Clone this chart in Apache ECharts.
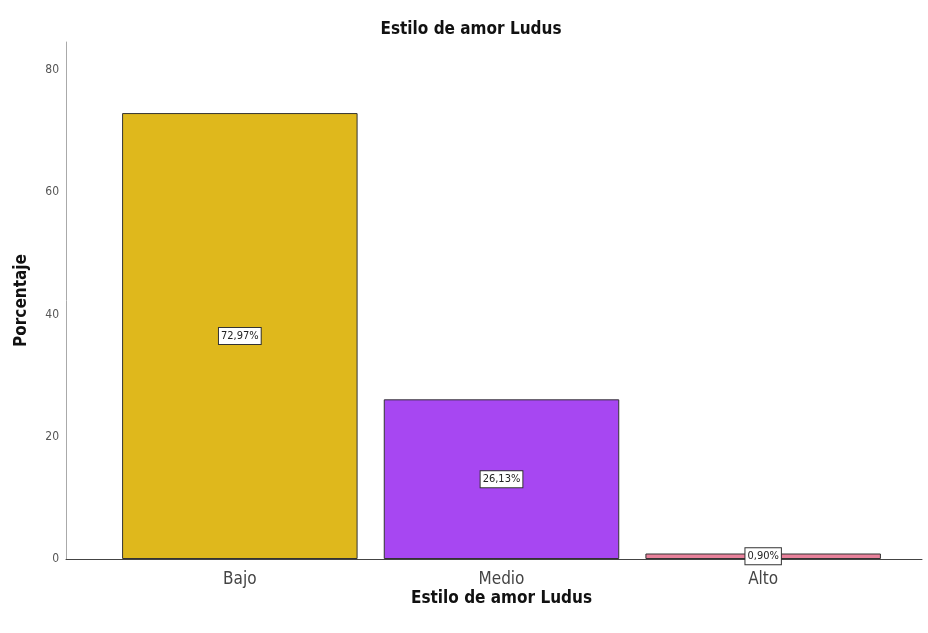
<!DOCTYPE html>
<html>
<head>
<meta charset="utf-8">
<script src="https://cdn.jsdelivr.net/npm/echarts@6/dist/echarts.min.js"></script>
<style>html,body{margin:0;padding:0;background:#fff}#c{width:928px;height:633px}</style>
</head>
<body>
<div id="c"></div>
<script>
const categories = ['Bajo', 'Medio', 'Alto'];
const values = [72.97, 26.13, 0.90];
const labels = ['72,97%', '26,13%', '0,90%'];
const barColors = ['#DFB81C', '#A747F2', '#E8819B'];
const yTicks = [0, 20, 40, 60, 80];

const font = '"DejaVu Sans Condensed", "Liberation Sans Narrow", "Liberation Sans", sans-serif';
const chart = echarts.init(document.getElementById('c'));
chart.setOption({
  animation: false,
  backgroundColor: '#fff',
  title: {
    text: 'Estilo de amor Ludus',
    left: 466, top: 16, textAlign: 'center',
    textStyle: { fontFamily: font, fontSize: 17, fontWeight: 'bold', color: '#111' }
  },
  grid: [
    { left: 109, right: 34, top: 42, bottom: 74 },
    { left: 66, right: 6, top: 42, bottom: 74 }
  ],
  xAxis: [
    {
      type: 'category', gridIndex: 0, data: categories,
      axisLine: { show: false }, axisTick: { show: false },
      axisLabel: { fontFamily: font, fontSize: 17, color: '#444', margin: 12 },
      name: 'Estilo de amor Ludus', nameLocation: 'middle', nameGap: 31, nameMoveOverlap: false,
      nameTextStyle: { fontFamily: font, fontSize: 17, fontWeight: 'bold', color: '#111' }
    },
    {
      type: 'value', gridIndex: 1, min: 0, max: 1,
      axisLine: { show: true, lineStyle: { color: '#444', width: 1 } },
      axisTick: { show: false }, axisLabel: { show: false }, splitLine: { show: false }
    }
  ],
  yAxis: [
    {
      type: 'value', gridIndex: 0, min: 0, max: 84.6, interval: 20, offset: 43,
      axisLine: { show: true, lineStyle: { color: '#aaa', width: 1 } },
      axisTick: { show: false }, splitLine: { show: false },
      axisLabel: { fontFamily: font, fontSize: 12, color: '#555', margin: 7, showMaxLabel: false,
        formatter: v => yTicks.includes(v) ? String(v) : '' },
      name: 'Porcentaje', nameLocation: 'middle', nameGap: 36, nameRotate: 90, nameMoveOverlap: false,
      nameTextStyle: { fontFamily: font, fontSize: 17, fontWeight: 'bold', color: '#111' }
    },
    { type: 'value', gridIndex: 1, min: 0, max: 1, show: false }
  ],
  series: [{
    type: 'bar', xAxisIndex: 0, yAxisIndex: 0,
    barCategoryGap: '10%',
    data: values.map((v, i) => ({ value: v, itemStyle: { color: barColors[i] } })),
    itemStyle: { borderColor: '#333', borderWidth: 1 },
    label: {
      show: true, position: 'inside',
      formatter: p => labels[p.dataIndex],
      fontFamily: font, fontSize: 11, color: '#222',
      backgroundColor: '#fff', borderColor: '#333', borderWidth: 1,
      padding: [3, 2, 2, 2]
    }
  }]
});
</script>
</body>
</html>
